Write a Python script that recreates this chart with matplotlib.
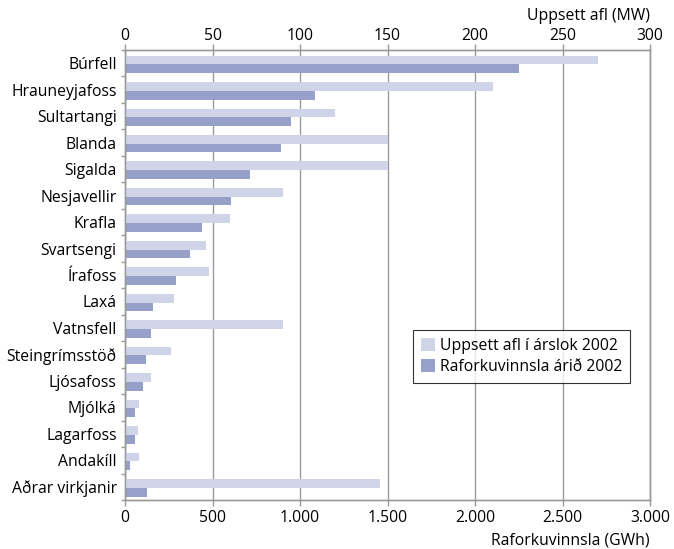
import numpy as np
import matplotlib.pyplot as plt
from matplotlib.patches import Patch

plt.rcParams['font.family'] = ['Open Sans', 'DejaVu Sans']

stations = ['Búrfell', 'Hrauneyjafoss', 'Sultartangi', 'Blanda', 'Sigalda', 'Nesjavellir',
            'Krafla', 'Svartsengi', 'Írafoss', 'Laxá', 'Vatnsfell', 'Steingrímsstöð',
            'Ljósafoss', 'Mjólká', 'Lagarfoss', 'Andakíll', 'Aðrar virkjanir']
# uppsett afl (MW), top axis
afl_mw = [270, 210, 120, 150, 150, 90, 60, 46.5, 48, 28, 90, 26, 15, 8, 7.5, 8, 145.5]
# raforkuvinnsla (GWh), bottom axis
vinnsla_gwh = [2253, 1085, 948, 890, 717, 605, 440, 370, 290, 160, 148, 122, 105, 59, 59, 30, 127]

gwh_ticks = [0, 500, 1000, 1500, 2000, 2500, 3000]
gwh_labels = ['0', '500', '1.000', '1.500', '2.000', '2.500', '3.000']
mw_ticks = [0, 50, 100, 150, 200, 250, 300]

light = '#d0d4e8'
dark = '#97a0c8'
grid_c = '#9a9a9a'
fs = 11.3

fig = plt.figure(figsize=(6.74, 5.49), dpi=100)
ax = fig.add_axes([0.1855, 0.0893, 0.7789, 0.8196])
ax2 = ax.twiny()

y = np.arange(len(stations))
h = 0.33
shift = 0.04  # bars sit a little low in each slot

ax.barh(y + h / 2 + shift, vinnsla_gwh, height=h, color=dark, zorder=2)
ax2.barh(y - h / 2 + shift, afl_mw, height=h, color=light, zorder=2)

ax.set_xlim(0, 3000)
ax2.set_xlim(0, 300)
ax.set_ylim(len(stations) - 0.5, -0.5)

ax.set_xticks(gwh_ticks)
ax.set_xticklabels(gwh_labels)
ax2.set_xticks(mw_ticks)

ax.grid(axis='x', color=grid_c, linewidth=1)
ax.set_axisbelow(True)

ax.set_yticks(y)
ax.set_yticklabels(stations, fontsize=fs)
ax.tick_params(axis='y', length=0, pad=6)
ax.set_yticks(np.arange(len(stations) + 1) - 0.5, minor=True)
ax.tick_params(axis='y', which='minor', length=3, color=grid_c, width=1)

ax.tick_params(axis='x', length=4, color=grid_c, width=1, labelsize=fs, pad=3)
ax2.tick_params(axis='x', length=4, color=grid_c, width=1, labelsize=fs, pad=0)

for a in (ax, ax2):
    for s in a.spines.values():
        s.set_color(grid_c)
        s.set_linewidth(1)

fig.text(0.9644, 0.970, 'Uppsett afl (MW)', ha='right', va='center', fontsize=fs)
fig.text(0.9644, 0.016, 'Raforkuvinnsla (GWh)', ha='right', va='center', fontsize=fs)

handles = [Patch(facecolor=light, label='Uppsett afl í árslok 2002'),
           Patch(facecolor=dark, label='Raforkuvinnsla árið 2002')]
leg = ax2.legend(handles=handles, loc='upper left', bbox_to_anchor=(0.549, 0.378),
                 frameon=True, fancybox=False, edgecolor='black', fontsize=fs,
                 handlelength=0.9, handleheight=0.9, handletextpad=0.3,
                 borderpad=0.5, labelspacing=0.35, borderaxespad=0)
leg.get_frame().set_linewidth(0.8)

fig.savefig('out.png', dpi=100)
